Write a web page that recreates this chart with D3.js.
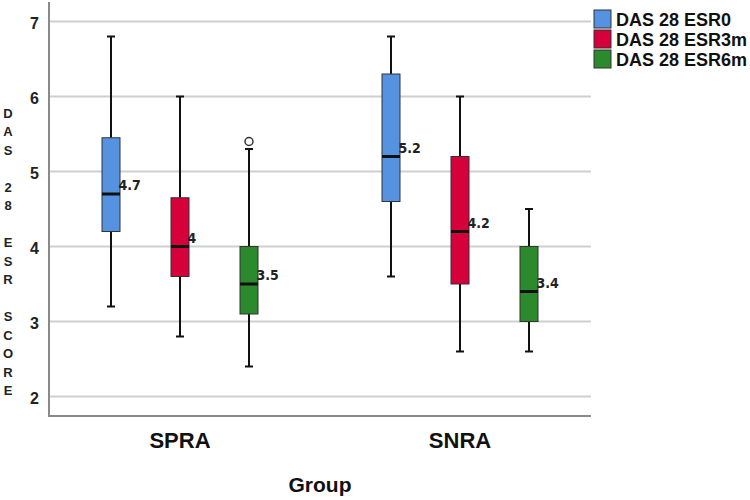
<!DOCTYPE html>
<html>
<head>
<meta charset="utf-8">
<script src="https://cdn.jsdelivr.net/npm/d3@7"></script>
<style>
  html, body { margin: 0; padding: 0; background: #fff; }
  svg { display: block; }
</style>
</head>
<body>
<svg id="chart" width="750" height="500"></svg>
<script>
// ---- data ----
const groups = ["SPRA", "SNRA"];
const series = ["DAS 28 ESR0", "DAS 28 ESR3m", "DAS 28 ESR6m"];
const colors = ["#5593e0", "#d6003a", "#2b8a2b"];
// per group, per series
const whiskerLow  = [[3.2, 2.8, 2.4], [3.6, 2.6, 2.6]];
const q1          = [[4.2, 3.6, 3.1], [4.6, 3.5, 3.0]];
const medians     = [[4.7, 4.0, 3.5], [5.2, 4.2, 3.4]];
const q3          = [[5.45, 4.65, 4.0], [6.3, 5.2, 4.0]];
const whiskerHigh = [[6.8, 6.0, 5.3], [6.8, 6.0, 4.5]];
const medianLabels = [["4.7", "4", "3.5"], ["5.2", "4.2", "3.4"]];
const outlierGroup = ["SPRA"];
const outlierSeries = ["DAS 28 ESR6m"];
const outlierValue = [5.4];
const yTicks = [2, 3, 4, 5, 6, 7];
const yTitle = "DAS 28 ESR SCORE";
const xTitle = "Group";

// ---- layout ----
const svg = d3.select("#chart");
const plot = { left: 49, right: 591, top: 2, bottom: 416 };

const y = d3.scaleLinear().domain([2, 7]).range([396.5, 21.5]);
const x = d3.scaleBand().domain(groups).range([40, 600]);
const xs = d3.scaleBand().domain(series).range([-103.5, 103.5]);
const boxW = 18, capW = 8;

// gridlines
svg.append("g").selectAll("line").data(yTicks).join("line")
  .attr("x1", plot.left).attr("x2", plot.right)
  .attr("y1", d => y(d)).attr("y2", d => y(d))
  .attr("stroke", "#cfcfcf").attr("stroke-width", 2);

// axes lines
svg.append("line").attr("x1", plot.left).attr("x2", plot.left)
  .attr("y1", plot.top).attr("y2", plot.bottom)
  .attr("stroke", "#8a8a8a").attr("stroke-width", 2);
svg.append("line").attr("x1", plot.left - 1).attr("x2", plot.right)
  .attr("y1", plot.bottom).attr("y2", plot.bottom)
  .attr("stroke", "#8a8a8a").attr("stroke-width", 2);

// y tick labels
svg.append("g").selectAll("text").data(yTicks).join("text")
  .attr("x", 39).attr("y", d => y(d) + 2)
  .attr("text-anchor", "end").attr("dominant-baseline", "central")
  .attr("font-family", "Liberation Sans, Arial, sans-serif")
  .attr("font-weight", "bold").attr("font-size", 16).attr("fill", "#222")
  .text(d => d);

// y title: stacked letters
svg.append("g").selectAll("text").data(yTitle.split("")).join("text")
  .attr("x", 8).attr("y", (d, i) => 113 + i * 18.5)
  .attr("text-anchor", "middle").attr("dominant-baseline", "central")
  .attr("font-family", "Liberation Sans, Arial, sans-serif")
  .attr("font-weight", "bold").attr("font-size", 13).attr("fill", "#222")
  .text(d => d);

// x tick labels
svg.append("g").selectAll("text").data(groups).join("text")
  .attr("x", d => x(d) + x.bandwidth() / 2).attr("y", 448)
  .attr("text-anchor", "middle")
  .attr("font-family", "Liberation Sans, Arial, sans-serif")
  .attr("font-weight", "bold").attr("font-size", 22).attr("fill", "#111")
  .text(d => d);

// x title
svg.append("text").attr("x", (plot.left + plot.right) / 2).attr("y", 492)
  .attr("text-anchor", "middle")
  .attr("font-family", "Liberation Sans, Arial, sans-serif")
  .attr("font-weight", "bold").attr("font-size", 21).attr("fill", "#111")
  .text(xTitle);

// boxes
const boxes = [];
groups.forEach((g, gi) => series.forEach((s, si) => {
  boxes.push({ g, s, gi, si,
    lo: whiskerLow[gi][si], q1: q1[gi][si], med: medians[gi][si],
    q3: q3[gi][si], hi: whiskerHigh[gi][si], label: medianLabels[gi][si] });
}));
const cx = d => x(d.g) + x.bandwidth() / 2 + xs(d.s) + xs.bandwidth() / 2;

const bg = svg.append("g").selectAll("g").data(boxes).join("g");
// whiskers
bg.append("line").attr("x1", cx).attr("x2", cx)
  .attr("y1", d => y(d.hi)).attr("y2", d => y(d.q3))
  .attr("stroke", "#111").attr("stroke-width", 2);
bg.append("line").attr("x1", cx).attr("x2", cx)
  .attr("y1", d => y(d.q1)).attr("y2", d => y(d.lo))
  .attr("stroke", "#111").attr("stroke-width", 2);
// caps
bg.append("line").attr("x1", d => cx(d) - capW / 2).attr("x2", d => cx(d) + capW / 2)
  .attr("y1", d => y(d.hi)).attr("y2", d => y(d.hi))
  .attr("stroke", "#111").attr("stroke-width", 2);
bg.append("line").attr("x1", d => cx(d) - capW / 2).attr("x2", d => cx(d) + capW / 2)
  .attr("y1", d => y(d.lo)).attr("y2", d => y(d.lo))
  .attr("stroke", "#111").attr("stroke-width", 2);
// box
bg.append("rect").attr("x", d => cx(d) - boxW / 2).attr("width", boxW)
  .attr("y", d => y(d.q3)).attr("height", d => y(d.q1) - y(d.q3))
  .attr("fill", d => colors[d.si]).attr("stroke", "#333").attr("stroke-width", 1);
// median
bg.append("line").attr("x1", d => cx(d) - boxW / 2).attr("x2", d => cx(d) + boxW / 2)
  .attr("y1", d => y(d.med)).attr("y2", d => y(d.med))
  .attr("stroke", "#111").attr("stroke-width", 3);
// median label
bg.append("text").attr("x", d => cx(d) + boxW / 2 - 1.5).attr("y", d => y(d.med) - 4)
  .attr("font-family", "DejaVu Sans Condensed, DejaVu Sans, sans-serif")
  .attr("font-stretch", "condensed")
  .attr("font-weight", "bold").attr("font-size", 14).attr("fill", "#222")
  .text(d => d.label);

// outliers
svg.append("g").selectAll("circle").data(outlierValue).join("circle")
  .attr("cx", (d, i) => x(outlierGroup[i]) + x.bandwidth() / 2 + xs(outlierSeries[i]) + xs.bandwidth() / 2)
  .attr("cy", d => y(d)).attr("r", 4)
  .attr("fill", "#fff").attr("stroke", "#333").attr("stroke-width", 1.5);

// legend
const lg = svg.append("g").selectAll("g").data(series).join("g")
  .attr("transform", (d, i) => `translate(594, ${10 + i * 20})`);
lg.append("rect").attr("width", 17).attr("height", 18)
  .attr("fill", (d, i) => colors[i]).attr("stroke", "#333").attr("stroke-width", 1);
lg.append("text").attr("x", 22).attr("y", 9.5).attr("dominant-baseline", "central")
  .attr("font-family", "Liberation Sans, Arial, sans-serif")
  .attr("font-weight", "bold").attr("font-size", 18).attr("fill", "#111")
  .text(d => d);
</script>
</body>
</html>
